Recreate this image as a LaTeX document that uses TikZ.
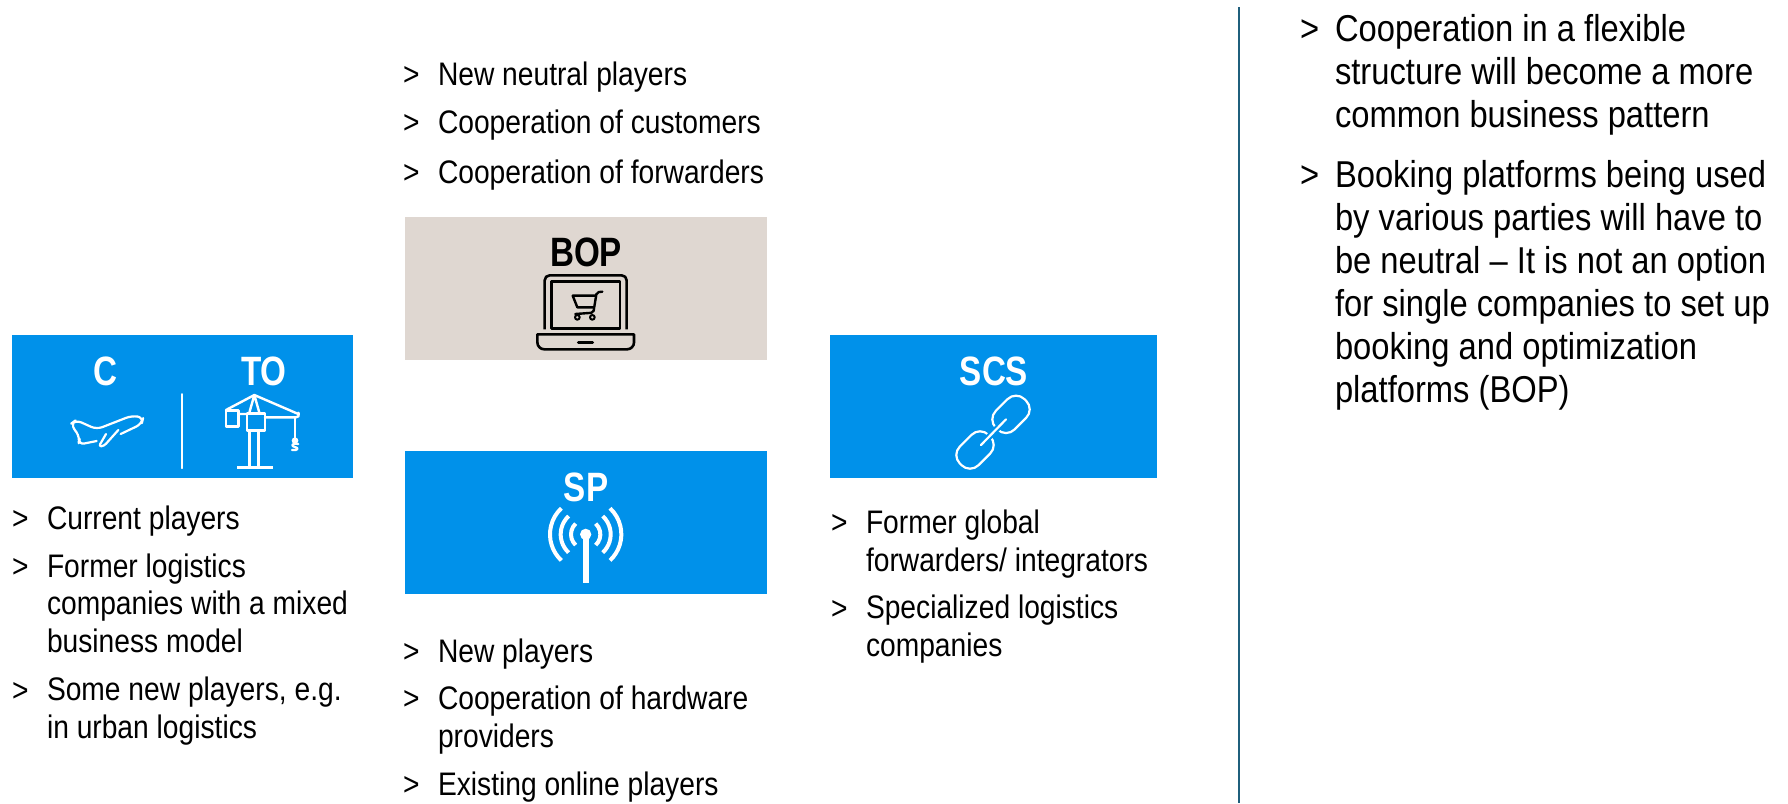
\documentclass[tikz,border=0pt]{standalone}
\usepackage{fontspec}
\setmainfont[FakeStretch=0.865]{Liberation Sans}
\newfontfamily\headfont[FakeStretch=0.81]{Liberation Sans}
\newfontfamily\sidefont[FakeStretch=0.875]{Liberation Sans}
\definecolor{bluebox}{HTML}{0091EA}
\definecolor{beigebox}{HTML}{DFD7D1}
\definecolor{rulecol}{HTML}{1F5F7C}
\tikzset{
  panel/.style={inner sep=0pt,outer sep=0pt,minimum height=71.5pt},
  bluepanel/.style={panel,fill=bluebox},
  beigepanel/.style={panel,fill=beigebox},
  bodytext/.style={inner sep=0pt,outer sep=0pt,anchor=base west,align=left,font=\fontsize{16.3pt}{18.75pt}\selectfont},
  sidetext/.style={inner sep=0pt,outer sep=0pt,anchor=base west,align=left,font=\sidefont\fontsize{18.7pt}{21.5pt}\selectfont},
  headlabel/.style={inner sep=0pt,outer sep=0pt,anchor=base,font=\headfont\fontsize{20.5pt}{22pt}\selectfont\bfseries},
  icon/.style={line width=1.1pt,line cap=round,line join=round},
  zoomed/.style={x=0.16667pt,y=-0.16667pt}
}
% [style]{name}{x}{first baseline}{last baseline}{text}
\newcommand{\bulletitem}[6][bodytext]{%
  \node[#1] (#2m) at (#3-35,#4) {>};
  \node[#1] (#2) at (#3,#5) {#6};
}
\begin{document}
\begin{tikzpicture}[x=0.5pt,y=-0.5pt]
\useasboundingbox (0,0) rectangle (1788,803);
% panels
\node[bluepanel,minimum width=170.5pt] (ct) at (182.5,406.5) {};
\node[beigepanel,minimum width=181pt] (bop) at (586,288.5) {};
\node[bluepanel,minimum width=181pt] (sp) at (586,522.5) {};
\node[bluepanel,minimum width=163.5pt] (scs) at (993.5,406.5) {};
% rule
\coordinate (ruletop) at (1239,7);
\coordinate (rulebot) at (1239,803);
\draw[rulecol,line width=0.75pt] (ruletop) -- (rulebot);
% labels
\node[headlabel,white] (lc) at (105,385) {C};
\node[headlabel,white] (lto) at (264,385) {TO};
\node[headlabel,black] (lbop) at (586,266) {BOP};
\node[headlabel,white] (lsp) at (586,501) {SP};
\node[headlabel,white] (lscs) at (994,385) {SCS};
% left list
\bulletitem{a1}{47}{529}{529}{Current players}
\bulletitem{a2}{47}{577}{652}{Former logistics\\companies with a mixed\\business model}
\bulletitem{a3}{47}{701}{738}{Some new players, e.g.\\in urban logistics}
% middle top
\bulletitem{b1}{438}{85}{85}{New neutral players}
\bulletitem{b2}{438}{133}{133}{Cooperation of customers}
\bulletitem{b3}{438}{183}{183}{Cooperation of forwarders}
% middle bottom
\bulletitem{c1}{438}{662}{662}{New players}
\bulletitem{c2}{438}{709}{747}{Cooperation of hardware\\providers}
\bulletitem{c3}{438}{795}{795}{Existing online players}
% right list
\bulletitem{d1}{866}{533}{571}{Former global\\forwarders/ integrators}
\bulletitem{d2}{866}{619}{656}{Specialized logistics\\companies}
% side
\bulletitem[sidetext]{e1}{1335}{41}{127}{Cooperation in a flexible\\structure will become a more\\common business pattern}
\bulletitem[sidetext]{e2}{1335}{187}{402}{Booking platforms being used\\by various parties will have to\\be neutral – It is not an option\\for single companies to set up\\booking and optimization\\platforms (BOP)}
% C / TO icons
\begin{scope}[shift={(0,320)},zoomed,white,icon]
\draw[line width=0.8pt] (546,222) -- (546,445);
\draw[rounded corners=3pt] (362,342) -- (425,312) -- (430,292) -- (395,287) -- (290,328) -- (228,300) -- (212,312) -- (240,352) -- (235,374) -- (290,363);
\draw[rounded corners=1.5pt] (318,342) -- (296,380) -- (312,378) -- (355,330);
\draw[line width=1.2pt] (748,335) -- (748,440) (776,335) -- (776,440);
\draw[line width=1.2pt,line cap=butt] (712,442) -- (818,442);
\draw[line width=1.2pt] (741,280) rectangle (795,332);
\draw[line width=1.2pt] (678,272) rectangle (715,320);
\draw[line width=1.2pt] (678,270) -- (763,225) -- (895,282) (748,278) -- (763,225) -- (778,278) (715,282) -- (741,282);
\draw[line width=1.2pt,rounded corners=2pt] (795,292) -- (900,292) -- (895,278);
\draw[line width=0.9pt] (885,295) -- (885,355);
\fill (885,362) circle (10);
\draw[line width=1.1pt] (895,372) .. controls (870,368) and (875,380) .. (885,381) .. controls (897,383) and (895,393) .. (876,390);
\end{scope}
% laptop icon
\begin{scope}[shift={(390,200)},zoomed,black,icon]
\draw[line width=1.3pt,rounded corners=2.5pt,line cap=butt] (464,388) -- (464,226) -- (710,226) -- (710,388);
\draw[line width=1.3pt] (485,245) rectangle (690,386);
\draw[line width=1.3pt] (442,403) -- (732,403) [rounded corners=3.5pt] -- (732,448) -- (442,448) [sharp corners] -- cycle;
\draw[line width=1.5pt] (565,426) -- (608,426);
\draw[line width=1.2pt,rounded corners=1pt] (637,275) -- (620,277) -- (610,338) -- (556,342);
\draw[line width=1.2pt] (548,287) -- (615,287) (548,287) -- (562,322) -- (610,322);
\draw[line width=1pt] (562,352) circle (7) (607,352) circle (7);
\end{scope}
% antenna icon
\begin{scope}[shift={(390,440)},zoomed,white]
\draw[line width=3pt] (587,285) -- (587,430);
\fill (587,283) circle (17);
\foreach \r in {44,75,107}{
  \draw[line width=2pt] (587,283) ++(133:\r) arc[start angle=133,end angle=227,radius=\r];
  \draw[line width=2pt] (587,283) ++(47:\r) arc[start angle=47,end angle=-47,radius=\r];
}
\end{scope}
% chain icon
\begin{scope}[shift={(820,320)},zoomed,white,icon]
\draw[rounded corners=6pt] (644,268) -- (588,212) -- (502,298) -- (558,354) -- cycle;
\draw[rounded corners=6pt] (536,375) -- (480,319) -- (394,405) -- (450,461) -- cycle;
\draw[bluebox,line width=3.2pt,line cap=butt] (490,368) -- (551,305);
\draw (483,375) -- (558,298);
\end{scope}
\end{tikzpicture}
\end{document}
